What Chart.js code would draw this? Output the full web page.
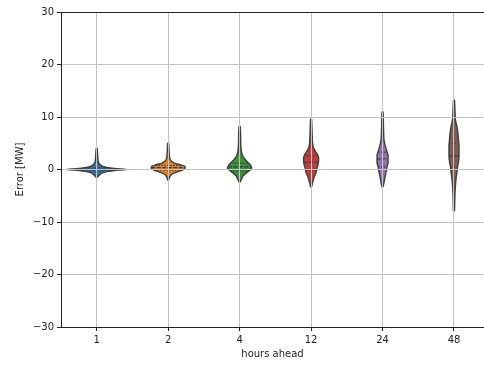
<!DOCTYPE html>
<html>
<head>
<meta charset="utf-8">
<title>hours ahead violins</title>
<script src="https://cdn.jsdelivr.net/npm/chart.js@4.4.0/dist/chart.umd.min.js"></script>
<style>
  html, body { margin: 0; padding: 0; background: #fff; }
</style>
</head>
<body>
<canvas id="chart" width="484" height="365"></canvas>
<script>
// categories
var hours = ['1', '2', '4', '12', '24', '48'];
var colors = ['#3274a1', '#e1812c', '#3a923a', '#c03d3e', '#9372b2', '#845b53'];

// violin outlines: error [MW] (bottom to top) and half width (category units)
var err1 = [-1.5, -1.1, -0.7, -0.4, -0.2, 0, 0.2, 0.4, 0.7, 1.1, 1.6, 2.5, 4.0];
var wid1 = [0.007, 0.035, 0.07, 0.14, 0.25, 0.43, 0.25, 0.14, 0.07, 0.035, 0.021, 0.014, 0.007];
var err2 = [-2.0, -1.4, -0.9, -0.5, -0.1, 0.3, 0.6, 0.9, 1.2, 1.6, 2.2, 3.2, 5.0];
var wid2 = [0.007, 0.021, 0.05, 0.12, 0.2, 0.238, 0.232, 0.17, 0.09, 0.042, 0.021, 0.014, 0.007];
var err4 = [-2.4, -1.8, -1.2, -0.6, -0.1, 0.3, 0.8, 1.3, 1.8, 2.4, 3.2, 4.5, 6.5, 8.2];
var wid4 = [0.007, 0.028, 0.049, 0.098, 0.147, 0.168, 0.154, 0.119, 0.084, 0.049, 0.028, 0.017, 0.014, 0.007];
var err12 = [-3.3, -2.5, -1.5, -0.6, 0.3, 1.0, 1.6, 2.2, 2.8, 3.4, 4.1, 5.0, 7.0, 9.6];
var wid12 = [0.007, 0.021, 0.042, 0.07, 0.084, 0.098, 0.105, 0.105, 0.091, 0.063, 0.035, 0.021, 0.014, 0.007];
var err24 = [-3.3, -2.5, -1.4, -0.5, 0.5, 1.3, 2.0, 2.7, 3.4, 4.3, 5.6, 7.5, 9.5, 11.0];
var wid24 = [0.007, 0.021, 0.035, 0.049, 0.063, 0.077, 0.077, 0.077, 0.063, 0.042, 0.021, 0.014, 0.011, 0.007];
var err48 = [-7.9, -6.0, -4.5, -3.0, -1.8, -0.5, 0.5, 1.5, 2.6, 3.6, 4.6, 5.6, 6.8, 8.1, 9.4, 11.0, 13.2];
var wid48 = [0.007, 0.011, 0.014, 0.021, 0.028, 0.042, 0.049, 0.063, 0.07, 0.07, 0.07, 0.063, 0.056, 0.042, 0.021, 0.014, 0.007];

// quartiles and the violin half width at each of them
var q1 = [-0.25, -0.1, -0.3, -0.1, 0.5, 0.5];
var q1W = [0.22, 0.2, 0.13, 0.08, 0.063, 0.049];
var med = [0.05, 0.35, 0.5, 1.4, 2.0, 2.6];
var medW = [0.38, 0.236, 0.165, 0.105, 0.077, 0.07];
var q3 = [0.3, 0.8, 1.2, 2.6, 3.3, 5.0];
var q3W = [0.19, 0.18, 0.119, 0.095, 0.063, 0.07];

var yTicks = [-30, -20, -10, 0, 10, 20, 30];

var shapes = [[err1, wid1], [err2, wid2], [err4, wid4], [err12, wid12], [err24, wid24], [err48, wid48]];
var datasets = [];

shapes.forEach(function (s, i) {
  var pts = [];
  for (var k = 0; k < s[0].length; k++) pts.push({x: i + s[1][k], y: s[0][k]});
  for (var k = s[0].length - 1; k >= 0; k--) pts.push({x: i - s[1][k], y: s[0][k]});
  pts.push(pts[0]);
  datasets.push({
    data: pts, showLine: true, fill: 'shape', tension: 0.2, order: 2,
    backgroundColor: colors[i], borderColor: '#3f3f3f', borderWidth: 1.4, pointRadius: 0
  });
});

// inner quartile lines, drawn on top of the bodies
[[q1, q1W, [1.5, 1.5]], [med, medW, [4, 1.5]], [q3, q3W, [1.5, 1.5]]].forEach(function (q) {
  q[0].forEach(function (v, i) {
    datasets.push({
      data: [{x: i - q[1][i], y: v}, {x: i + q[1][i], y: v}],
      showLine: true, fill: false, order: 1, borderColor: '#3a3a3a', borderWidth: 1.2,
      borderDash: q[2], pointRadius: 0
    });
  });
});

// top spine
var frame = {
  id: 'frame',
  afterDraw: function (chart) {
    var a = chart.chartArea, ctx = chart.ctx;
    ctx.save();
    ctx.strokeStyle = '#222';
    ctx.lineWidth = 1;
    ctx.beginPath();
    ctx.moveTo(a.left, a.top + 0.5);
    ctx.lineTo(a.right, a.top + 0.5);
    ctx.stroke();
    ctx.restore();
  }
};

Chart.defaults.font.family = 'DejaVu Sans';
Chart.defaults.font.size = 10;
Chart.defaults.color = '#222';

new Chart('chart', {
  type: 'scatter',
  data: {datasets: datasets},
  plugins: [frame],
  options: {
    responsive: false,
    animation: false,
    layout: {padding: {top: 12, right: 0, left: 0, bottom: 0}},
    plugins: {legend: {display: false}, tooltip: {enabled: false}},
    scales: {
      x: {
        type: 'linear', min: -0.5, max: 5.42,
        afterBuildTicks: function (axis) {
          axis.ticks = hours.map(function (h, i) { return {value: i}; });
        },
        afterFit: function (axis) { axis.height = 38; },
        ticks: {
          padding: 3, maxRotation: 0,
          callback: function (v) { return hours[v]; }
        },
        grid: {color: '#c4c4c4', lineWidth: 1, tickColor: '#222', tickLength: 4, z: 1},
        border: {color: '#222', width: 1, z: 2},
        title: {display: true, text: 'hours ahead', padding: {top: 0, bottom: 5}}
      },
      y: {
        min: -30, max: 30,
        afterBuildTicks: function (axis) {
          axis.ticks = yTicks.map(function (t) { return {value: t}; });
        },
        afterFit: function (axis) { axis.width = 61; },
        ticks: {
          padding: 3,
          callback: function (v) { return String(v).replace('-', '\u2212'); }
        },
        grid: {color: '#c4c4c4', lineWidth: 1, tickColor: '#222', tickLength: 4, z: 1},
        border: {color: '#222', width: 1, z: 2},
        title: {display: true, text: 'Error [MW]', padding: {top: 14, bottom: 0}}
      }
    }
  }
});
</script>
</body>
</html>
